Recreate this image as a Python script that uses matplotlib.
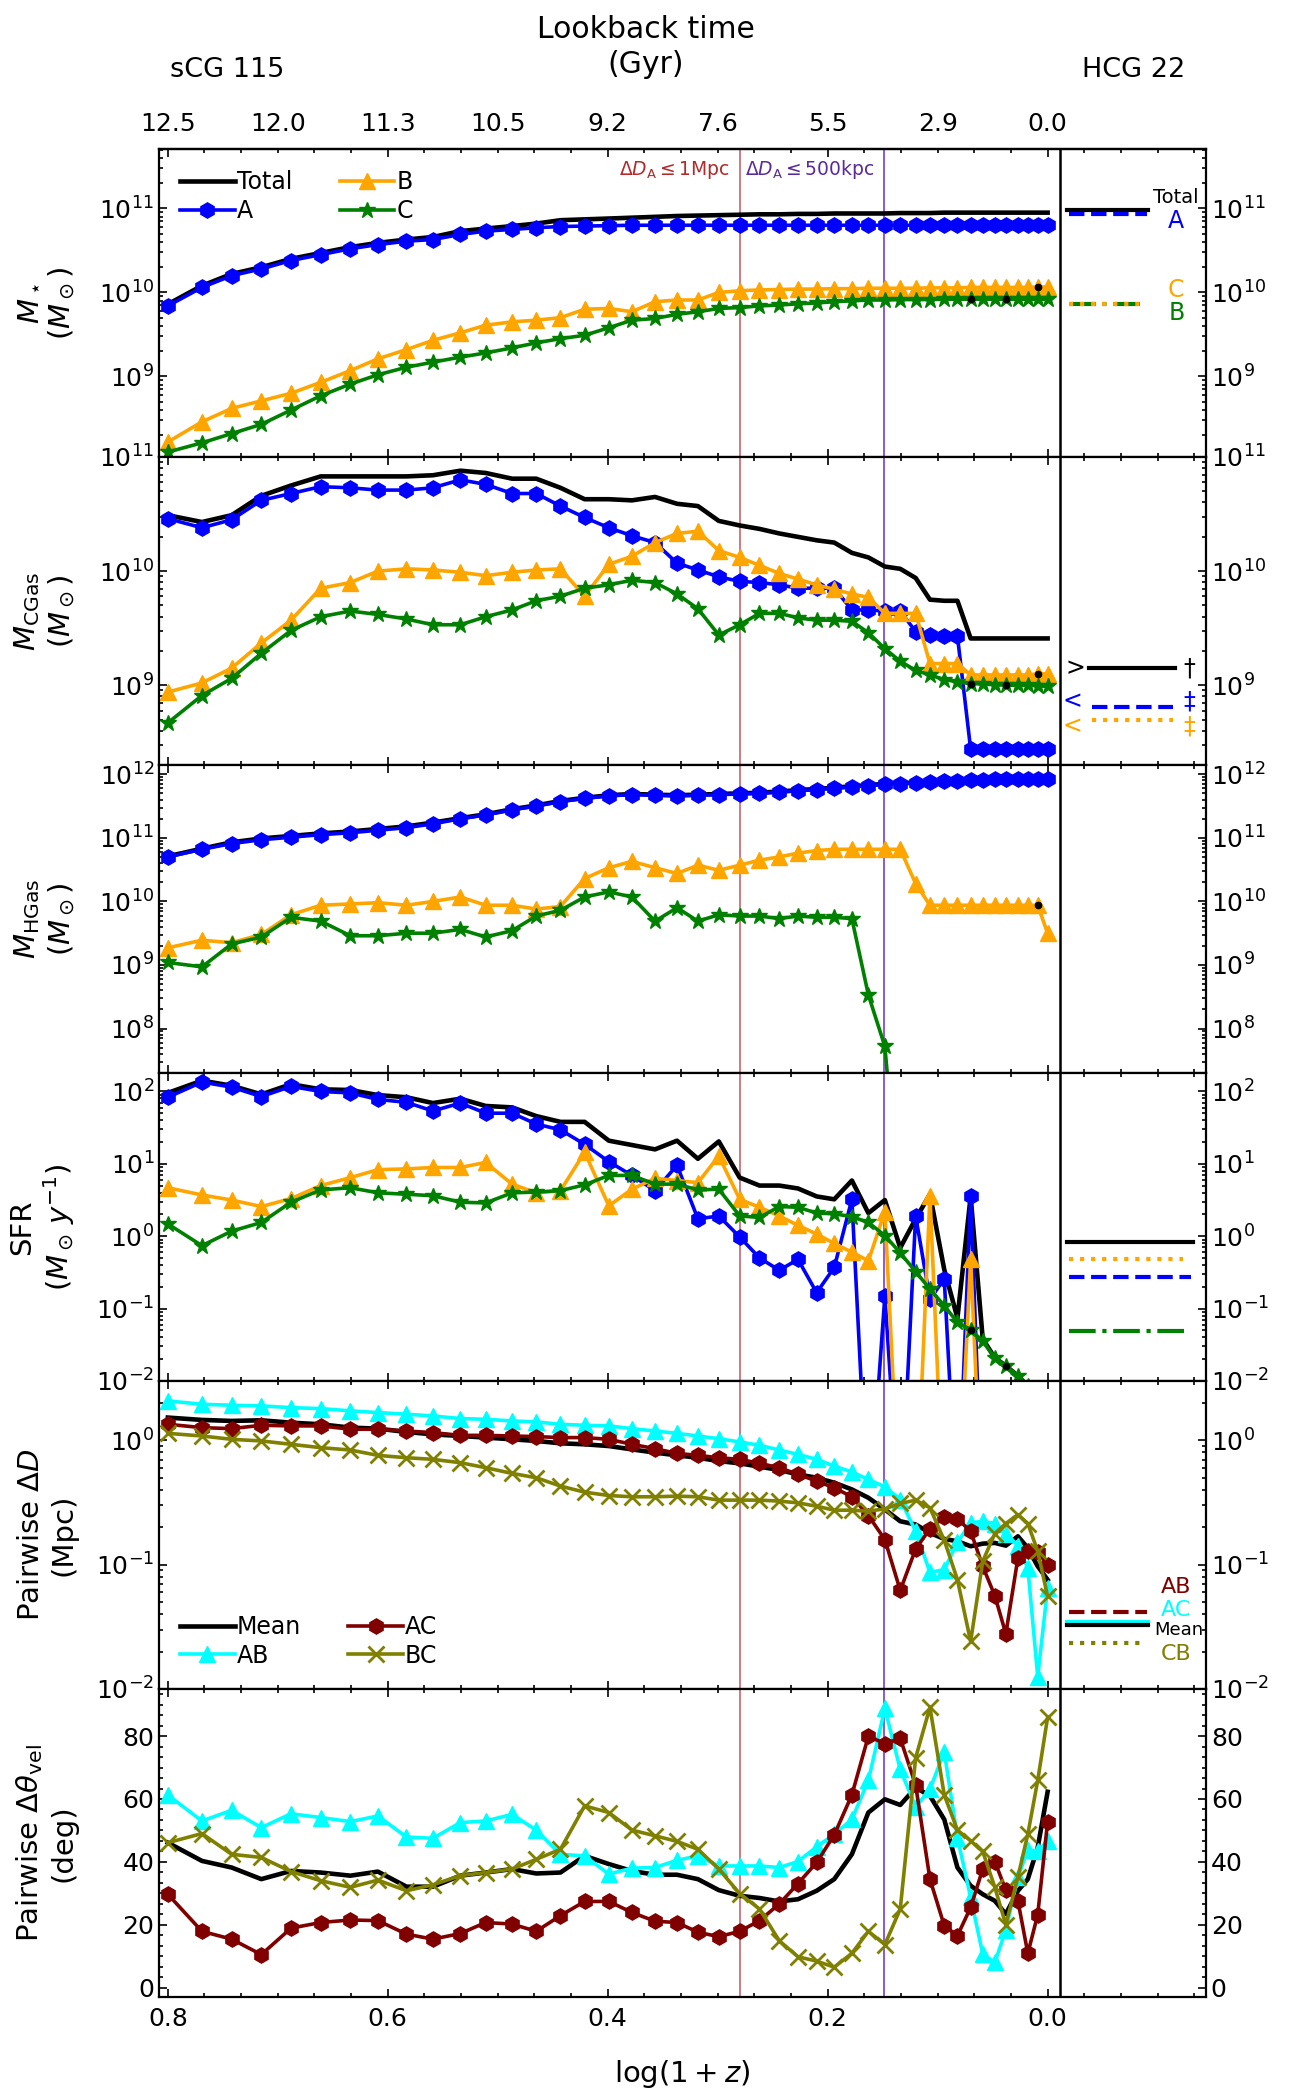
import numpy as np
import matplotlib
matplotlib.use('Agg')
import matplotlib.pyplot as plt
from matplotlib.ticker import AutoMinorLocator, LogLocator, NullFormatter, FixedLocator

# ---------------- data ----------------
logz = [0.800, 0.769, 0.742, 0.715, 0.688, 0.661, 0.634, 0.609, 0.583, 0.559,
        0.534, 0.511, 0.487, 0.465, 0.443, 0.421, 0.399, 0.378, 0.357, 0.337,
        0.318, 0.299, 0.280, 0.262, 0.244, 0.227, 0.210, 0.194, 0.178, 0.163,
        0.148, 0.134, 0.120, 0.107, 0.094, 0.082, 0.070, 0.059, 0.048, 0.038,
        0.027, 0.018, 0.009, 0.000]

lookback_pos = [0.8, 0.7, 0.6, 0.5, 0.4, 0.3, 0.2, 0.1, 0.0]
lookback_labels = ['12.5', '12.0', '11.3', '10.5', '9.2', '7.6', '5.5', '2.9', '0.0']

# Panel 1: log10 stellar mass
mstar_total = [9.86, 10.08, 10.22, 10.30, 10.40, 10.47, 10.54, 10.59, 10.63, 10.66,
               10.73, 10.76, 10.79, 10.82, 10.86, 10.87, 10.88, 10.89, 10.90, 10.91,
               10.915, 10.92, 10.925, 10.93, 10.93, 10.935, 10.935, 10.94, 10.94, 10.94,
               10.94, 10.945, 10.945, 10.945, 10.95, 10.95, 10.95, 10.95, 10.95, 10.95,
               10.95, 10.95, 10.95, 10.95]
mstar_A = [9.84, 10.06, 10.20, 10.28, 10.38, 10.45, 10.52, 10.57, 10.61, 10.63,
           10.69, 10.73, 10.75, 10.77, 10.785, 10.79, 10.795, 10.80, 10.80, 10.80,
           10.80, 10.80, 10.80, 10.80, 10.80, 10.80, 10.80, 10.80, 10.80, 10.80,
           10.80, 10.80, 10.80, 10.80, 10.80, 10.80, 10.80, 10.80, 10.80, 10.80,
           10.80, 10.80, 10.80, 10.80]
mstar_B = [8.22, 8.46, 8.62, 8.71, 8.80, 8.93, 9.07, 9.21, 9.32, 9.43,
           9.52, 9.61, 9.65, 9.67, 9.70, 9.80, 9.81, 9.77, 9.89, 9.91,
           9.91, 10.00, 10.02, 10.03, 10.035, 10.04, 10.04, 10.045, 10.045, 10.05,
           10.05, 10.05, 10.05, 10.055, 10.055, 10.055, 10.06, 10.06, 10.06, 10.06,
           10.06, 10.06, 10.065, 10.065]
mstar_C = [8.10, 8.21, 8.32, 8.43, 8.60, 8.77, 8.91, 9.02, 9.11, 9.17,
           9.23, 9.28, 9.34, 9.40, 9.45, 9.49, 9.58, 9.67, 9.69, 9.74,
           9.77, 9.81, 9.82, 9.84, 9.85, 9.865, 9.875, 9.89, 9.90, 9.91,
           9.91, 9.915, 9.915, 9.915, 9.92, 9.92, 9.92, 9.92, 9.92, 9.92,
           9.92, 9.92, 9.92, 9.92]

# Panel 2: log10 cold gas mass
mcg_total = [10.49, 10.43, 10.49, 10.66, 10.75, 10.83, 10.83, 10.83, 10.83, 10.84,
             10.88, 10.86, 10.81, 10.81, 10.73, 10.63, 10.63, 10.62, 10.65, 10.59,
             10.57, 10.44, 10.40, 10.37, 10.33, 10.30, 10.27, 10.25, 10.16, 10.12,
             10.04, 10.02, 9.94, 9.75, 9.74, 9.74, 9.41, 9.41, 9.41, 9.41,
             9.41, 9.41, 9.41, 9.41]
mcg_A = [10.46, 10.38, 10.45, 10.62, 10.68, 10.74, 10.73, 10.71, 10.71, 10.73,
         10.80, 10.76, 10.68, 10.68, 10.57, 10.47, 10.38, 10.31, 10.25, 10.07,
         10.01, 9.95, 9.91, 9.90, 9.88, 9.85, 9.85, 9.85, 9.66, 9.66,
         9.65, 9.65, 9.47, 9.44, 9.43, 9.43, 8.44, 8.44, 8.44, 8.44,
         8.44, 8.44, 8.44, 8.44]
mcg_B = [8.94, 9.02, 9.15, 9.37, 9.57, 9.85, 9.90, 10.00, 10.02, 10.01,
         9.99, 9.96, 9.99, 10.01, 10.02, 9.78, 10.06, 10.13, 10.25, 10.33,
         10.35, 10.18, 10.12, 10.05, 9.98, 9.93, 9.88, 9.84, 9.80, 9.77,
         9.63, 9.63, 9.63, 9.19, 9.19, 9.19, 9.09, 9.09, 9.09, 9.09,
         9.09, 9.09, 9.10, 9.10]
mcg_C = [8.67, 8.91, 9.06, 9.28, 9.48, 9.60, 9.65, 9.62, 9.58, 9.53,
         9.53, 9.60, 9.66, 9.74, 9.78, 9.85, 9.88, 9.92, 9.90, 9.80,
         9.67, 9.44, 9.53, 9.63, 9.63, 9.59, 9.57, 9.57, 9.56, 9.46,
         9.32, 9.21, 9.13, 9.09, 9.05, 9.03, 9.015, 9.01, 9.005, 9.00,
         9.00, 9.00, 8.995, 8.99]

# Panel 3: log10 hot gas mass
mhg_total = [10.71, 10.83, 10.93, 10.99, 11.03, 11.07, 11.10, 11.14, 11.18, 11.24,
             11.31, 11.37, 11.45, 11.51, 11.58, 11.63, 11.67, 11.69, 11.68, 11.67,
             11.68, 11.69, 11.70, 11.71, 11.73, 11.75, 11.77, 11.79, 11.81, 11.83,
             11.85, 11.86, 11.87, 11.88, 11.90, 11.90, 11.91, 11.91, 11.92, 11.92,
             11.92, 11.92, 11.92, 11.92]
mhg_A = [10.70, 10.82, 10.91, 10.97, 11.01, 11.05, 11.08, 11.12, 11.16, 11.22,
         11.30, 11.36, 11.44, 11.50, 11.57, 11.62, 11.66, 11.68, 11.67, 11.66,
         11.67, 11.68, 11.69, 11.70, 11.72, 11.74, 11.76, 11.78, 11.80, 11.82,
         11.84, 11.85, 11.86, 11.88, 11.90, 11.90, 11.91, 11.91, 11.92, 11.92,
         11.92, 11.92, 11.92, 11.92]
mhg_B = [9.27, 9.39, 9.35, 9.48, 9.79, 9.94, 9.96, 9.98, 9.94, 10.00,
         10.07, 9.94, 9.94, 9.88, 9.92, 10.36, 10.53, 10.63, 10.53, 10.44,
         10.57, 10.49, 10.57, 10.65, 10.70, 10.76, 10.80, 10.82, 10.82, 10.82,
         10.82, 10.82, 10.28, 9.94, 9.94, 9.94, 9.94, 9.94, 9.94, 9.94,
         9.94, 9.94, 9.94, 9.50]
mhg_C = [9.04, 8.97, 9.33, 9.44, 9.75, 9.69, 9.46, 9.46, 9.50, 9.50,
         9.56, 9.44, 9.54, 9.77, 9.86, 10.07, 10.15, 10.07, 9.69, 9.90,
         9.69, 9.79, 9.77, 9.77, 9.73, 9.77, 9.75, 9.75, 9.73, 8.53,
         7.72, 5.0, 5.0, 5.0, 5.0, 5.0, 5.0, 5.0, 5.0, 5.0,
         5.0, 5.0, 5.0, 5.0]

# Panel 4: log10 SFR
sfr_total = [1.98, 2.15, 2.08, 1.96, 2.10, 2.03, 2.02, 1.95, 1.92, 1.84,
             1.90, 1.80, 1.78, 1.66, 1.58, 1.58, 1.32, 1.26, 1.20, 1.32,
             1.07, 1.31, 0.81, 0.70, 0.70, 0.66, 0.55, 0.51, 0.77, 0.32,
             0.50, -0.16, 0.24, 0.58, -0.46, -1.13, 0.55, -1.42, -1.68, -1.79,
             -1.93, -2.07, -2.30, -2.50]
sfr_A = [1.92, 2.13, 2.06, 1.93, 2.07, 2.00, 1.98, 1.89, 1.85, 1.73,
         1.84, 1.70, 1.70, 1.55, 1.47, 1.27, 1.03, 0.84, 0.63, 0.98,
         0.24, 0.28, -0.01, -0.30, -0.47, -0.32, -0.78, -0.43, 0.51, -4.0,
         -0.83, -4.0, 0.28, -0.87, -0.59, -4.0, 0.55, -4.0, -4.0, -4.0,
         -4.0, -4.0, -4.0, -4.0]
sfr_B = [0.67, 0.57, 0.50, 0.41, 0.52, 0.70, 0.81, 0.92, 0.93, 0.95,
         0.95, 1.02, 0.72, 0.60, 0.63, 1.16, 0.42, 0.65, 0.80, 0.77,
         0.74, 1.11, 0.51, 0.40, 0.28, 0.15, 0.03, -0.10, -0.22, -0.34,
         0.34, -4.0, -4.0, 0.56, -4.0, -4.0, -0.32, -4.0, -4.0, -4.0,
         -4.0, -4.0, -4.0, -4.0]
sfr_C = [0.17, -0.13, 0.07, 0.19, 0.47, 0.64, 0.67, 0.60, 0.58, 0.56,
         0.47, 0.46, 0.60, 0.61, 0.63, 0.71, 0.84, 0.84, 0.72, 0.72,
         0.64, 0.65, 0.28, 0.26, 0.41, 0.40, 0.32, 0.31, 0.27, 0.19,
         0.01, -0.23, -0.49, -0.73, -0.96, -1.19, -1.29, -1.45, -1.68, -1.79,
         -1.93, -2.07, -2.30, -2.50]

# Panel 5: log10 pairwise separation (Mpc)
dd_mean = [0.183, 0.164, 0.156, 0.161, 0.142, 0.129, 0.102, 0.094, 0.067, 0.048,
           0.035, 0.022, 0.008, -0.005, -0.024, -0.032, -0.046, -0.073, -0.099, -0.121,
           -0.140, -0.167, -0.185, -0.212, -0.239, -0.274, -0.301, -0.341, -0.395, -0.462,
           -0.556, -0.651, -0.677, -0.745, -0.793, -0.812, -0.852, -0.831, -0.825, -0.847,
           -0.772, -0.866, -1.013, -1.121]
dd_AB = [0.317, 0.290, 0.282, 0.277, 0.263, 0.255, 0.237, 0.223, 0.210, 0.196,
         0.175, 0.169, 0.156, 0.148, 0.129, 0.121, 0.116, 0.094, 0.075, 0.056,
         0.035, 0.013, -0.013, -0.040, -0.078, -0.113, -0.153, -0.207, -0.255, -0.315,
         -0.374, -0.476, -0.731, -1.062, -1.040, -0.820, -0.664, -0.651, -0.669, -0.750,
         -0.847, -1.027, -1.900, -1.188]
dd_AC = [0.129, 0.102, 0.094, 0.121, 0.116, 0.116, 0.089, 0.089, 0.075, 0.062,
         0.040, 0.040, 0.035, 0.030, 0.022, 0.022, 0.008, -0.032, -0.067, -0.105,
         -0.121, -0.140, -0.153, -0.185, -0.220, -0.274, -0.328, -0.382, -0.454, -0.605,
         -0.798, -1.207, -0.874, -0.712, -0.616, -0.632, -0.731, -1.013, -1.250, -1.556,
         -0.946, -0.892, -0.900, -1.000]
dd_BC = [0.056, 0.035, 0.008, -0.005, -0.032, -0.059, -0.078, -0.121, -0.140, -0.153,
         -0.180, -0.220, -0.266, -0.301, -0.368, -0.417, -0.444, -0.454, -0.454, -0.449,
         -0.454, -0.481, -0.481, -0.481, -0.489, -0.503, -0.530, -0.562, -0.562, -0.570,
         -0.551, -0.508, -0.481, -0.543, -0.804, -1.121, -1.618, -0.973, -0.750, -0.669,
         -0.597, -0.669, -0.892, -1.255]

# Panel 6: pairwise velocity angle (deg)
dth_mean = [46.1, 40.3, 38.2, 34.5, 37.1, 36.6, 35.6, 36.9, 32.1, 32.1,
            35.6, 36.6, 37.7, 36.3, 36.6, 41.9, 39.3, 37.1, 35.9, 35.9,
            34.5, 31.0, 29.2, 28.5, 27.4, 28.1, 30.8, 34.5, 42.4, 55.7,
            59.9, 58.1, 63.6, 61.0, 53.5, 38.2, 32.4, 29.7, 27.6, 23.4,
            30.8, 34.5, 44.6, 62.3]
dth_AB = [61.3, 53.0, 56.4, 50.9, 55.3, 54.1, 52.8, 54.6, 47.9, 47.5,
          52.5, 53.0, 55.1, 50.1, 42.4, 41.9, 36.1, 38.0, 38.2, 40.5,
          41.9, 38.7, 38.7, 38.7, 38.2, 40.1, 44.8, 48.8, 53.5, 65.9,
          88.8, 69.4, 57.5, 63.1, 75.0, 47.7, 28.7, 10.7, 8.0, 18.3,
          35.2, 43.7, 43.5, 46.5]
dth_AC = [29.7, 17.9, 15.4, 10.5, 18.9, 20.7, 21.5, 21.3, 17.0, 15.4,
          17.2, 20.7, 20.2, 17.9, 22.9, 27.4, 27.4, 23.9, 21.1, 20.7,
          17.6, 16.2, 17.9, 21.3, 26.6, 33.1, 39.8, 48.6, 61.3, 80.0,
          77.6, 79.3, 64.4, 34.5, 19.7, 16.5, 25.5, 37.7, 40.1, 31.0,
          27.6, 10.9, 23.2, 52.8]
dth_BC = [46.1, 49.0, 42.4, 41.4, 36.9, 34.0, 31.9, 34.2, 30.8, 32.7,
          35.6, 36.6, 37.7, 40.8, 44.0, 57.8, 55.7, 50.1, 48.3, 46.5,
          44.0, 37.7, 29.9, 25.0, 14.9, 9.8, 8.4, 6.5, 10.9, 17.9,
          13.7, 25.0, 73.1, 89.2, 61.3, 50.1, 46.7, 43.3, 31.9, 20.0,
          35.2, 48.8, 65.9, 86.0]

# observed HCG 22 reference values (right-hand strip)
obs_mstar = {'Total': 9.5e10, 'A': 8.5e10, 'B': 7.2e9, 'C': 7.2e9}
obs_mcg = {'Total': 1.41e9, 'A': 6.5e8, 'B': 5.0e8}
obs_sfr = {'Total': 0.82, 'B': 0.49, 'A': 0.27, 'C': 0.0485}
obs_dd = {'AB': 0.042, 'AC': 0.0347, 'Mean': 0.033, 'CB': 0.0236}

merger_idx_C = [36, 39]
merger_idx_B = [42]

# ---------------- styling ----------------
plt.rcParams['font.family'] = ['DejaVu Sans']
plt.rcParams['mathtext.fontset'] = 'dejavusans'
plt.rcParams['axes.linewidth'] = 1.6

TICK_FS = 18
LEG_FS = 17
LAB_FS = 21
SIDE_FS = 17
SMALL_FS = 14

x = np.array(logz)
XL = (0.808, -0.144)
SEP = -0.011
RED_X, PUR_X = 0.280, 0.149
red_c, pur_c = '#c8646e', '#7a3cc8'

fig = plt.figure(figsize=(12.93, 21.0), dpi=100)
gs = fig.add_gridspec(6, 1, left=0.123, right=0.9327, top=0.92905, bottom=0.04905, hspace=0)
axes = [fig.add_subplot(gs[i]) for i in range(6)]

kwT = dict(color='black', lw=3.3)
kwA = dict(color='blue', lw=2.6, marker='h', ms=11)
kwB = dict(color='orange', lw=2.6, marker='^', ms=11)
kwC = dict(color='green', lw=2.6, marker='*', ms=12)
kwAB = dict(color='cyan', lw=2.6, marker='^', ms=11)
kwAC = dict(color='#800000', lw=2.6, marker='h', ms=11)
kwBC = dict(color='olive', lw=2.6, marker='x', ms=11, mew=2)

def p10(v):
    return 10.0 ** np.array(v)

def merger_dots(ax, series_C, series_B):
    ax.plot(x[merger_idx_C], np.array(series_C)[merger_idx_C], 'o', color='black', ms=4.5, zorder=6)
    ax.plot(x[merger_idx_B], np.array(series_B)[merger_idx_B], 'o', color='black', ms=4.5, zorder=6)

leg_kw = dict(ncol=2, frameon=False, fontsize=LEG_FS, handlelength=2.3,
              handletextpad=0.1, columnspacing=2.0, labelspacing=0.2)

# Panel 1
ax = axes[0]
ax.plot(x, p10(mstar_total), label='Total', **kwT)
ax.plot(x, p10(mstar_A), label='A', **kwA)
ax.plot(x, p10(mstar_B), label='B', **kwB)
ax.plot(x, p10(mstar_C), label='C', **kwC)
merger_dots(ax, p10(mstar_C), p10(mstar_B))
ax.set_yscale('log')
ax.set_ylim(1.1e8, 5.1e11)
ax.legend(loc='upper left', **leg_kw)
ax.plot([-0.018, -0.091], [obs_mstar['Total']] * 2, color='black', lw=3)
ax.plot([-0.019, -0.090], [obs_mstar['A']] * 2, color='blue', ls='--', lw=3)
ax.plot([-0.019, -0.084], [obs_mstar['C']] * 2, color='green', ls='-.', lw=3)
ax.plot([-0.019, -0.084], [obs_mstar['B']] * 2, color='orange', ls=':', lw=3)
ax.text(-0.117, 1.35e11, 'Total', color='black', fontsize=SMALL_FS, ha='center', va='center')
ax.text(-0.117, 7.0e10, 'A', color='blue', fontsize=SIDE_FS, ha='center', va='center')
ax.text(-0.117, 1.08e10, 'C', color='orange', fontsize=SIDE_FS, ha='center', va='center')
ax.text(-0.117, 5.7e9, 'B', color='green', fontsize=SIDE_FS, ha='center', va='center')
ax.text(0.289, 2.9e11, r'$\Delta D_{\rm A} \leq 1$Mpc', color='#b22a2a', fontsize=13.5, ha='right', va='center')
ax.text(0.157, 2.9e11, r'$\Delta D_{\rm A} \leq 500$kpc', color='#5a2a9a', fontsize=13.5, ha='right', va='center')
ax.set_ylabel('$M_\\star$\n$(M_\\odot)$', fontsize=LAB_FS)

# Panel 2
ax = axes[1]
ax.plot(x, p10(mcg_total), **kwT)
ax.plot(x, p10(mcg_A), **kwA)
ax.plot(x, p10(mcg_B), **kwB)
ax.plot(x, p10(mcg_C), **kwC)
merger_dots(ax, p10(mcg_C), p10(mcg_B))
ax.set_yscale('log')
ax.set_ylim(2e8, 1e11)
ax.plot([-0.038, -0.116], [obs_mcg['Total']] * 2, color='black', lw=3)
ax.plot([-0.040, -0.114], [obs_mcg['A']] * 2, color='blue', ls='--', lw=3)
ax.plot([-0.040, -0.114], [obs_mcg['B']] * 2, color='orange', ls=':', lw=3)
ax.text(-0.025, 1.41e9, '>', color='black', fontsize=SIDE_FS, ha='center', va='center')
ax.text(-0.129, 1.41e9, '\u2020', color='black', fontsize=SIDE_FS, ha='center', va='center')
ax.text(-0.023, 7.2e8, '<', color='blue', fontsize=SIDE_FS, ha='center', va='center')
ax.text(-0.129, 7.2e8, '\u2021', color='blue', fontsize=SIDE_FS, ha='center', va='center')
ax.text(-0.023, 4.37e8, '<', color='orange', fontsize=SIDE_FS, ha='center', va='center')
ax.text(-0.129, 4.37e8, '\u2021', color='orange', fontsize=SIDE_FS, ha='center', va='center')
ax.set_ylabel('$M_{\\rm CGas}$\n$(M_\\odot)$', fontsize=LAB_FS)

# Panel 3
ax = axes[2]
ax.plot(x, p10(mhg_total), **kwT)
ax.plot(x, p10(mhg_A), **kwA)
ax.plot(x, p10(mhg_B), **kwB)
ax.plot(x, p10(mhg_C), **kwC)
ax.plot(x[merger_idx_B], p10(mhg_B)[merger_idx_B], 'o', color='black', ms=4.5, zorder=6)
ax.set_yscale('log')
ax.set_ylim(2e7, 1.4e12)
ax.set_ylabel('$M_{\\rm HGas}$\n$(M_\\odot)$', fontsize=LAB_FS)

# Panel 4
ax = axes[3]
ax.plot(x, p10(sfr_total), **kwT)
ax.plot(x, p10(sfr_A), **kwA)
ax.plot(x, p10(sfr_B), **kwB)
ax.plot(x, p10(sfr_C), **kwC)
ax.plot(x[merger_idx_C], p10(sfr_C)[merger_idx_C], 'o', color='black', ms=4.5, zorder=6)
ax.set_yscale('log')
ax.set_ylim(1e-2, 1.8e2)
ax.plot([-0.018, -0.132], [obs_sfr['Total']] * 2, color='black', lw=3)
ax.plot([-0.019, -0.123], [obs_sfr['B']] * 2, color='orange', ls=':', lw=3)
ax.plot([-0.019, -0.130], [obs_sfr['A']] * 2, color='blue', ls='--', lw=3)
ax.plot([-0.019, -0.124], [obs_sfr['C']] * 2, color='green', ls='-.', lw=3)
ax.set_ylabel('SFR\n$(M_\\odot\\, y^{-1})$', fontsize=LAB_FS)

# Panel 5
ax = axes[4]
ax.plot(x, p10(dd_mean), label='Mean', **kwT)
ax.plot(x, p10(dd_AB), label='AB', **kwAB)
ax.plot(x, p10(dd_AC), label='AC', **kwAC)
ax.plot(x, p10(dd_BC), label='BC', **kwBC)
ax.set_yscale('log')
ax.set_ylim(1e-2, 3.0)
ax.legend(loc='lower left', **leg_kw)
ax.plot([-0.019, -0.090], [obs_dd['AB']] * 2, color='#800000', ls='--', lw=3)
ax.plot([-0.018, -0.091], [obs_dd['AC']] * 2, color='cyan', lw=3)
ax.plot([-0.018, -0.091], [obs_dd['Mean']] * 2, color='black', lw=3)
ax.plot([-0.019, -0.084], [obs_dd['CB']] * 2, color='olive', ls=':', lw=3)
ax.text(-0.117, 0.0665, 'AB', color='#800000', fontsize=16, ha='center', va='center')
ax.text(-0.117, 0.0435, 'AC', color='cyan', fontsize=16, ha='center', va='center')
ax.text(-0.119, 0.0298, 'Mean', color='black', fontsize=13, ha='center', va='center')
ax.text(-0.117, 0.0192, 'CB', color='olive', fontsize=16, ha='center', va='center')
ax.set_ylabel('Pairwise $\\Delta D$\n(Mpc)', fontsize=LAB_FS)

# Panel 6
ax = axes[5]
ax.plot(x, dth_mean, **kwT)
ax.plot(x, dth_AB, **kwAB)
ax.plot(x, dth_AC, **kwAC)
ax.plot(x, dth_BC, **kwBC)
ax.set_ylim(-3, 95)
ax.yaxis.set_major_locator(FixedLocator([0, 20, 40, 60, 80]))
ax.yaxis.set_minor_locator(AutoMinorLocator(6))
ax.set_ylabel('Pairwise $\\Delta\\theta_{\\rm vel}$\n(deg)', fontsize=LAB_FS)
ax.set_xlabel('$\\log(1+z)$', fontsize=LAB_FS, labelpad=20)

for i, ax in enumerate(axes):
    ax.set_xlim(*XL)
    ax.xaxis.set_major_locator(FixedLocator([0.8, 0.6, 0.4, 0.2, 0.0]))
    ax.xaxis.set_minor_locator(AutoMinorLocator(6))
    ax.axvline(RED_X, color=red_c, lw=1.2, zorder=1)
    ax.axvline(PUR_X, color=pur_c, lw=1.2, zorder=1)
    ax.axvline(SEP, color='black', lw=1.8, zorder=1)
    ax.tick_params(which='both', direction='in', top=True, right=True, labelright=True,
                   labelsize=TICK_FS, width=1.2)
    ax.tick_params(which='major', length=6)
    ax.tick_params(which='minor', length=3)
    if ax.get_yscale() == 'log':
        ax.yaxis.set_major_locator(LogLocator(base=10, numticks=20))
        ax.yaxis.set_minor_locator(LogLocator(base=10, subs=np.arange(2, 10), numticks=50))
        ax.yaxis.set_minor_formatter(NullFormatter())
    if i < 5:
        ax.tick_params(labelbottom=False)
    else:
        ax.tick_params(axis='x', pad=7)
    ax.yaxis.set_label_coords(-0.078, 0.5)

sec = axes[0].secondary_xaxis('top')
sec.xaxis.set_major_locator(FixedLocator(lookback_pos))
sec.set_xticklabels(lookback_labels)
sec.tick_params(length=0, pad=9.5, labelsize=TICK_FS)

fig.text(0.4996, 0.9776, 'Lookback time\n(Gyr)', ha='center', va='center', fontsize=21.5, linespacing=1.3)
fig.text(0.1756, 0.9667, 'sCG 115', ha='center', va='center', fontsize=19.5)
fig.text(0.877, 0.9667, 'HCG 22', ha='center', va='center', fontsize=19.5)

fig.savefig('out.png', dpi=100)
